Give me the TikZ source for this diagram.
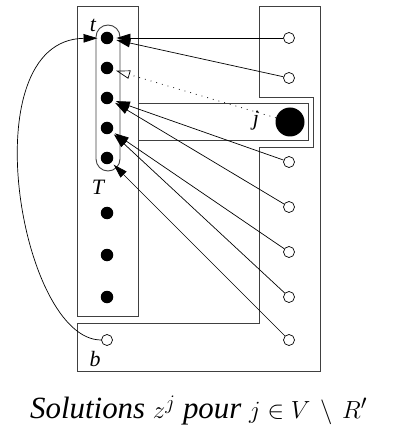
\documentclass[tikz,border=0pt]{standalone}
\usepackage{fontspec}
\setmainfont{Liberation Serif}
\usetikzlibrary{arrows.meta}
\begin{document}
\begin{tikzpicture}[x=1bp,y=-1bp,
  frame/.style={draw=black!75,line width=0.9bp},
  sol/.style={circle,fill=black,inner sep=0pt,minimum size=12.5bp},
  cand/.style={circle,draw,fill=white,inner sep=0pt,minimum size=11bp,line width=0.7bp},
  lab/.style={font=\fontsize{22}{24}\selectfont\itshape,inner sep=0pt,anchor=base},
  arr/.style={line width=0.7bp,-{Triangle[length=14bp,width=8.5bp]},shorten >=3bp},
  oarr/.style={line width=0.7bp,dash pattern=on 0.9bp off 5bp,
    -{Triangle[open,length=14bp,width=8.5bp,line width=0.7bp]},shorten >=3bp}]
\useasboundingbox (0,0) rectangle (399,444);

% column of the selected set and the surrounding region
\draw[frame] (77,6) rectangle (138,316);
\draw[frame] (259,6) -- (320,6) -- (320,371) -- (77,371) -- (77,323)
  -- (259,323) -- (259,147) -- (313,147) -- (313,97) -- (259,97) -- cycle;
\draw[frame] (138,103) rectangle (308,140);
\draw[frame,rounded corners=12bp] (96,25) rectangle (120,171);

% solution vertices
\foreach \i/\y in {1/38,2/68,3/98,4/128,5/158,6/213,7/255,8/297}
  \node[sol] (d\i) at (107,\y) {};

% candidate vertices
\foreach \i/\y in {1/38,2/78,3/162,4/207,5/252,6/297,7/340}
  \node[cand] (c\i) at (289,\y) {};

\node[circle,fill=black,inner sep=0pt,minimum size=29bp] (j) at (290,122) {};
\node[cand] (b) at (107,340) {};

% labels
\node[lab] (lt) at (93,32) {t};
\node[lab] (lT) at (98,195) {T};
\node[lab] (lj) at (256,126) {j};
\node[lab] (lb) at (95,366) {b};

% assignments
\draw[arr] (c1) -- (d1);
\draw[arr] (c2) -- (d1);
\draw[oarr] (j) -- (d2);
\draw[arr] (c3) -- (d3);
\draw[arr] (c4) -- (d3);
\draw[arr] (c5) -- (d4);
\draw[arr] (c6) -- (d4);
\draw[arr] (c7) -- (d5);
\draw[arr] (b.west) .. controls (20,340) and (-30,40) .. (d1);

% caption
\node[font=\fontsize{31}{35}\selectfont,inner sep=0pt,anchor=base west] (cap) at (30,418)
  {\textit{Solutions} $z^j$ \textit{pour} $j \in V \,\setminus\, R'$};
\end{tikzpicture}
\end{document}
